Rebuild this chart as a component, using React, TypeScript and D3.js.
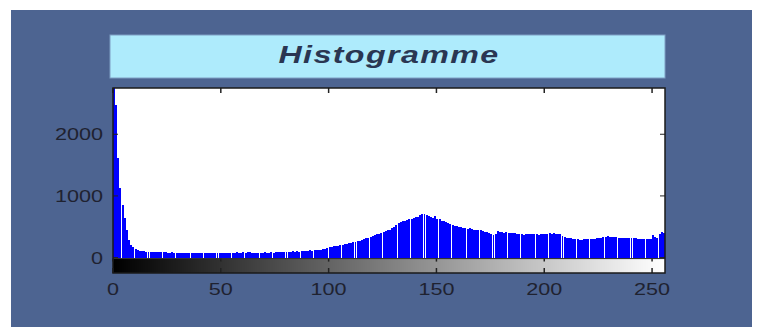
import { useEffect, useRef } from 'react'
import * as d3 from 'd3'

// histogram counts, one per grey level (0..255)
const countsDark = [
  2900, 2480, 1620, 1130, 860, 640, 450, 290, 210, 170, 140, 125, 112, 105, 100, 98,
  96, 92, 95, 90, 88, 92, 86, 84, 88, 82, 80, 85, 78, 82, 76, 80,
  78, 74, 80, 76, 72, 78, 75, 70, 76, 73, 78, 72, 75, 70, 74, 77,
  72, 76, 74, 80, 75, 78, 82, 76, 80, 84, 78, 82, 86, 80, 84, 88
]
const countsMidDark = [
  80, 76, 82, 78, 75, 80, 84, 78, 82, 86, 80, 84, 90, 86, 92, 88,
  94, 90, 96, 100, 95, 102, 98, 105, 108, 102, 110, 115, 108, 118, 120, 125,
  128, 135, 142, 150, 165, 172, 180, 188, 195, 205, 212, 220, 228, 235, 242, 250,
  258, 265, 275, 285, 298, 312, 325, 338, 350, 362, 375, 390, 400, 415, 428, 440
]
const countsMidLight = [
  455, 475, 500, 525, 560, 585, 590, 600, 610, 620, 628, 640, 655, 665, 690, 700,
  710, 690, 670, 665, 640, 675, 630, 620, 600, 590, 575, 560, 545, 535, 520, 510,
  500, 490, 485, 478, 470, 480, 465, 455, 450, 445, 440, 430, 420, 415, 400, 390,
  370, 385, 430, 420, 410, 405, 415, 400, 405, 395, 400, 390, 385, 380, 370, 378
]
const countsLight = [
  385, 380, 375, 382, 378, 370, 385, 380, 390, 385, 392, 388, 395, 390, 380, 375,
  350, 330, 315, 320, 310, 300, 305, 295, 290, 285, 300, 305, 295, 298, 300, 305,
  310, 318, 325, 330, 338, 342, 335, 340, 330, 328, 325, 320, 322, 318, 315, 320,
  312, 318, 310, 305, 300, 308, 302, 298, 295, 300, 360, 330, 310, 380, 420, 400
]
const counts = [...countsDark, ...countsMidDark, ...countsMidLight, ...countsLight]

const xTicks = [0, 50, 100, 150, 200, 250]
const yTicks = [0, 1000, 2000]
const titleText = 'Histogramme'

const W = 760
const H = 327
const textColor = '#1f2230'
const fontFamily = 'Liberation Sans, Arial, sans-serif'

export default function App() {
  const svgRef = useRef<SVGSVGElement>(null)

  useEffect(() => {
    if (!svgRef.current) return
    const svg = d3.select(svgRef.current)
    svg.selectAll('*').remove()

    const plot = { left: 113, right: 665, top: 88, bottom: 273 }

    const x = d3.scaleLinear().domain([0, 256]).range([plot.left, plot.right])
    const y = d3.scaleLinear().domain([-250, 2750]).range([plot.bottom, plot.top])

    // window background
    svg.append('rect')
      .attr('x', 11).attr('y', 10)
      .attr('width', 741).attr('height', H - 10)
      .style('fill', '#4d6491')

    // title box
    svg.append('rect')
      .attr('x', 110).attr('y', 35)
      .attr('width', 555).attr('height', 43)
      .style('fill', '#aeebfc')
      .style('stroke', '#7f9ec4')
      .style('stroke-width', '1px')

    svg.append('text')
      .attr('transform', `translate(${(plot.left + plot.right) / 2},${63}) scale(1.4,1)`)
      .attr('text-anchor', 'middle')
      .style('fill', '#2a3652')
      .style('font-size', '23px')
      .style('font-weight', 'bold')
      .style('font-style', 'italic')
      .style('letter-spacing', '1px')
      .style('font-family', fontFamily)
      .text(titleText)

    // axes area
    svg.append('rect')
      .attr('x', plot.left).attr('y', plot.top)
      .attr('width', plot.right - plot.left).attr('height', plot.bottom - plot.top)
      .style('fill', '#ffffff')

    svg.append('clipPath').attr('id', 'plot-clip')
      .append('rect')
      .attr('x', plot.left).attr('y', plot.top)
      .attr('width', plot.right - plot.left).attr('height', plot.bottom - plot.top)

    const g = svg.append('g').attr('clip-path', 'url(#plot-clip)')

    // bars
    g.selectAll('rect.bar')
      .data(counts)
      .enter()
      .append('rect')
      .attr('class', 'bar')
      .attr('x', (_, i) => x(i))
      .attr('width', (x(1) - x(0)) * 0.92)
      .attr('y', d => y(d))
      .attr('height', d => y(0) - y(d))
      .attr('shape-rendering', 'crispEdges')
      .style('fill', '#0000ff')

    // grey level colour bar
    g.selectAll('rect.cbar')
      .data(counts.map((_, i) => i))
      .enter()
      .append('rect')
      .attr('class', 'cbar')
      .attr('x', i => x(i))
      .attr('width', x(1) - x(0) + 0.5)
      .attr('y', y(0) + 1)
      .attr('height', plot.bottom - y(0) - 1)
      .attr('shape-rendering', 'crispEdges')
      .style('fill', i => `rgb(${i},${i},${i})`)

    g.append('line')
      .attr('x1', plot.left).attr('x2', plot.right)
      .attr('y1', y(0) + 1).attr('y2', y(0) + 1)
      .style('stroke', '#222')
      .style('stroke-width', '1px')

    // ticks (inside, on all four sides)
    const tickLen = 5
    xTicks.forEach(t => {
      [[plot.top, plot.top + tickLen], [plot.bottom, plot.bottom - tickLen], [y(0) + 1, y(0) + 1 + 3]].forEach(([a, b]) => {
        svg.append('line')
          .attr('x1', x(t)).attr('x2', x(t))
          .attr('y1', a).attr('y2', b)
          .style('stroke', '#222')
          .style('stroke-width', '1.5px')
      })
    })
    yTicks.forEach(t => {
      [[plot.left, plot.left + tickLen], [plot.right, plot.right - tickLen]].forEach(([a, b]) => {
        svg.append('line')
          .attr('x1', a).attr('x2', b)
          .attr('y1', y(t)).attr('y2', y(t))
          .style('stroke', '#222')
          .style('stroke-width', '1px')
      })
    })

    // frame
    svg.append('rect')
      .attr('x', plot.left).attr('y', plot.top)
      .attr('width', plot.right - plot.left).attr('height', plot.bottom - plot.top)
      .style('fill', 'none')
      .style('stroke', '#1a1a1a')
      .style('stroke-width', '1.5px')

    // tick labels
    xTicks.forEach(t => {
      svg.append('text')
        .attr('transform', `translate(${x(t)},${295}) scale(1.27,1)`)
        .attr('text-anchor', 'middle')
        .style('fill', textColor)
        .style('font-size', '17px')
        .style('font-family', fontFamily)
        .text(String(t))
    })
    yTicks.forEach(t => {
      svg.append('text')
        .attr('transform', `translate(${103},${y(t) + 6}) scale(1.27,1)`)
        .attr('text-anchor', 'end')
        .style('fill', textColor)
        .style('font-size', '17px')
        .style('font-family', fontFamily)
        .text(String(t))
    })
  }, [])

  return (
    <svg
      ref={svgRef}
      width={W}
      height={H}
      style={{ position: 'absolute', left: 0, top: 0, display: 'block', background: '#ffffff' }}
    />
  )
}
